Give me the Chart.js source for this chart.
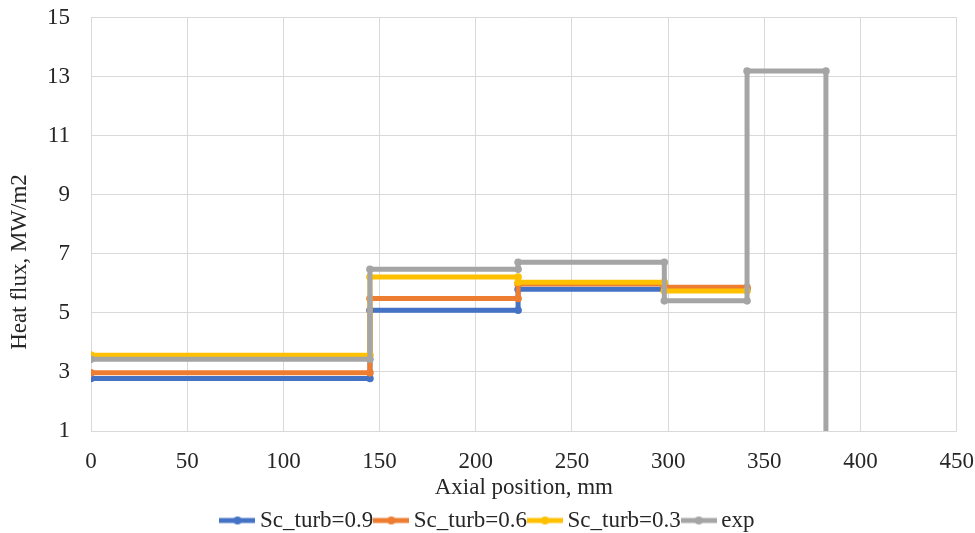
<!DOCTYPE html>
<html>
<head>
<meta charset="utf-8">
<script src="https://cdn.jsdelivr.net/npm/chart.js@4.4.0/dist/chart.umd.min.js"></script>
<style>
  html, body { margin: 0; padding: 0; background: #fff; }
  #wrap { width: 975px; height: 533px; }
</style>
</head>
<body>
<div id="wrap"><canvas id="fluxChart" width="975" height="533"></canvas></div>
<script>
// step edges (mm) and the level on each step (MW/m2)
const simEdges = [0, 145, 222, 298, 341];
const sc09 = [2.78, 5.09, 5.8, 5.8];
const sc06 = [2.97, 5.49, 5.98, 5.87];
const sc03 = [3.57, 6.22, 6.04, 5.74];

const expEdges = [0, 145, 222, 298, 341, 382];
const expFlux = [3.43, 6.48, 6.72, 5.41, 13.2];
const expEnd = 1;

const xTicks = [0, 50, 100, 150, 200, 250, 300, 350, 400, 450];
const yTicks = [1, 3, 5, 7, 9, 11, 13, 15];

function stepPoints(edges, levels) {
    const pts = [];
    for (let i = 0; i < levels.length; i++) {
        pts.push({x: edges[i], y: levels[i]});
        pts.push({x: edges[i + 1], y: levels[i]});
    }
    return pts;
}

const expPoints = stepPoints(expEdges, expFlux);
expPoints.push({x: expEdges[expEdges.length - 1], y: expEnd});

const FONT = "'Liberation Serif', 'Times New Roman', serif";
const TXT = '#262626';
const FS = 23;
const Y_TITLE = 'Heat flux, MW/m2';

function legendMark(color) {
    const c = document.createElement('canvas');
    c.width = 36; c.height = 10;
    const g = c.getContext('2d');
    g.strokeStyle = color;
    g.lineWidth = 5;
    g.beginPath(); g.moveTo(0, 5); g.lineTo(36, 5); g.stroke();
    g.fillStyle = color;
    g.beginPath(); g.arc(18, 5, 4, 0, Math.PI * 2); g.fill();
    return c;
}

function series(label, points, color, order) {
    return {
        label: label,
        data: points,
        borderColor: color,
        backgroundColor: color,
        borderWidth: 5,
        pointRadius: 3.8,
        pointBorderWidth: 0,
        pointHoverRadius: 5,
        showLine: true,
        fill: false,
        order: order
    };
}

const expSeries = series('exp', expPoints, '#A5A5A5', 1);
expSeries.pointRadius = expPoints.map((p, i) => i === expPoints.length - 1 ? 0 : 3.8);

const data = {
    datasets: [
        series('Sc_turb=0.9', stepPoints(simEdges, sc09), '#4472C4', 4),
        series('Sc_turb=0.6', stepPoints(simEdges, sc06), '#ED7D31', 3),
        series('Sc_turb=0.3', stepPoints(simEdges, sc03), '#FFC000', 2),
        expSeries
    ]
};

// Excel puts the y title a bit below the middle of the plot, so draw it here
const yTitlePlugin = {
    id: 'yTitle',
    afterDraw(chart) {
        const g = chart.ctx;
        g.save();
        g.translate(20, 262);
        g.rotate(-Math.PI / 2);
        g.font = FS + 'px ' + FONT;
        g.fillStyle = TXT;
        g.textAlign = 'center';
        g.textBaseline = 'middle';
        g.fillText(Y_TITLE, 0, 0);
        g.restore();
    }
};

const config = {
    type: 'scatter',
    data: data,
    plugins: [yTitlePlugin],
    options: {
        responsive: false,
        animation: false,
        layout: { padding: { left: 6, right: 0, top: 0, bottom: 0 } },
        plugins: {
            legend: {
                position: 'bottom',
                maxHeight: 31,
                labels: {
                    color: TXT,
                    font: { family: FONT, size: FS },
                    boxWidth: 22,
                    boxHeight: 10,
                    pointStyleWidth: 22,
                    padding: 7,
                    usePointStyle: true,
                    sort: (a, b) => a.datasetIndex - b.datasetIndex,
                    generateLabels: function(chart) {
                        return chart.data.datasets.map((ds, i) => ({
                            text: ds.label,
                            fontColor: TXT,
                            pointStyle: legendMark(ds.borderColor),
                            lineWidth: 0,
                            strokeStyle: 'transparent',
                            fillStyle: 'transparent',
                            hidden: !chart.isDatasetVisible(i),
                            datasetIndex: i
                        }));
                    }
                }
            },
            tooltip: { enabled: true }
        },
        scales: {
            x: {
                type: 'linear',
                min: 0,
                max: 450,
                afterBuildTicks: axis => { axis.ticks = xTicks.map(v => ({value: v})); },
                afterFit: axis => { axis.height = 71; },
                grid: { color: '#d9d9d9', lineWidth: 1, drawTicks: true, tickLength: 16, tickColor: 'rgba(0,0,0,0)' },
                border: { display: false },
                ticks: { color: TXT, font: { family: FONT, size: FS }, padding: 1, maxRotation: 0 },
                title: {
                    display: true,
                    text: 'Axial position, mm',
                    color: TXT,
                    font: { family: FONT, size: FS },
                    padding: { top: 0, bottom: 0 }
                }
            },
            y: {
                min: 1,
                max: 15,
                afterBuildTicks: axis => { axis.ticks = yTicks.map(v => ({value: v})); },
                afterFit: axis => { axis.width = 85; },
                grid: { color: '#d9d9d9', lineWidth: 1, drawTicks: true, tickLength: 17, tickColor: 'rgba(0,0,0,0)' },
                border: { display: false },
                ticks: { color: TXT, font: { family: FONT, size: FS }, padding: 4 },
                title: { display: false, text: Y_TITLE }
            }
        }
    }
};

const ctx = document.getElementById('fluxChart').getContext('2d');
new Chart(ctx, config);
</script>
</body>
</html>
